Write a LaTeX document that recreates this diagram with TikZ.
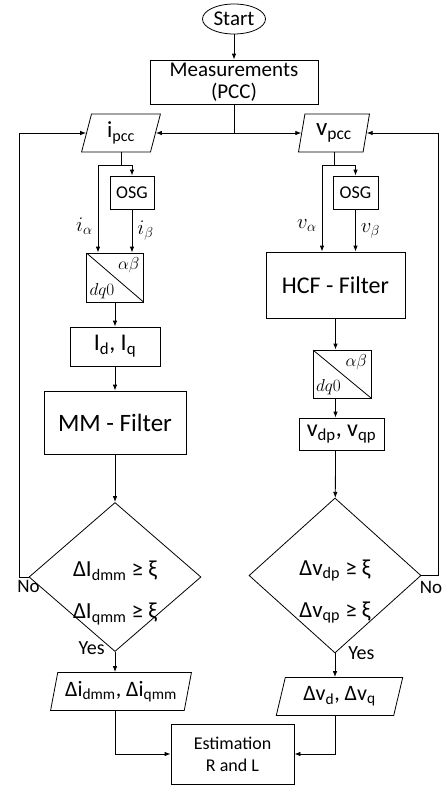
\documentclass[tikz,border=0pt]{standalone}
\usepackage{fontspec}
\setmainfont{Carlito}
\usetikzlibrary{shapes.geometric,arrows.meta}
\newcommand{\fsz}[2]{\fontsize{#1}{#2}\selectfont}
\tikzset{
  flow/.style={draw, rectangle, inner sep=0pt, align=center},
  io/.style={draw, trapezium, trapezium stretches=true, inner sep=0pt,
    minimum height=38pt},
  transf/.style={draw, rectangle, minimum width=57pt, minimum height=49pt,
    path picture={\draw (path picture bounding box.north west) -- (path picture bounding box.south east);},
    label={[anchor=north east, inner sep=4pt, font=\fsz{16}{18}]north east:$\alpha\beta$},
    label={[anchor=south west, inner sep=3pt, font=\fsz{16}{18}]south west:$dq0$}},
  decision/.style={draw, diamond, inner sep=0pt, minimum width=172pt, minimum height=152pt},
  line/.style={-{Latex[length=6pt,width=4.5pt]}},
  every path/.style={line width=0.8pt}
}
\begin{document}
\begin{tikzpicture}[x=1pt, y=-1pt]
  \useasboundingbox (0,0) rectangle (442,787);
  % top
  \node[draw, ellipse, minimum width=63pt, minimum height=30pt, inner sep=0pt, font=\fsz{21}{23}] (start) at (234,19) {Start};
  \node[flow, minimum width=168pt, minimum height=44pt, font=\fsz{21}{22}] (meas) at (234,82) {Measurements\\(PCC)};
  \node[io, trapezium left angle=78, trapezium right angle=102, minimum width=79pt, font=\fsz{23}{25}] (ipcc) at (121,133) {i\textsubscript{pcc}};
  \node[io, trapezium left angle=78, trapezium right angle=102, minimum width=71pt, font=\fsz{25}{27}] (vpcc) at (334,133) {v\textsubscript{pcc}};
  % current branch
  \node[flow, minimum width=44pt, minimum height=33pt, font=\fsz{18}{20}] (osg1) at (132,192.5) {OSG};
  \node[transf] (tf1) at (115,277.5) {};
  \node[flow, minimum width=90pt, minimum height=39pt, font=\fsz{24}{26}] (id) at (115,346.5) {I\textsubscript{d}, I\textsubscript{q}};
  \node[flow, minimum width=142pt, minimum height=63pt, font=\fsz{25}{27}] (mm) at (115,422.5) {MM - Filter};
  \node[decision, minimum height=149pt,
    label={[align=center, yshift=-16pt, font=\fsz{23}{42}]center:{ΔI\textsubscript{dmm} ≥ ξ\\ΔI\textsubscript{qmm} ≥ ξ}}] (dec1) at (115,577) {};
  \node[io, trapezium left angle=73, trapezium right angle=107, minimum width=141pt, font=\fsz{22}{24}] (dio1) at (121,691.5) {Δi\textsubscript{dmm}, Δi\textsubscript{qmm}};
  % voltage branch
  \node[flow, minimum width=45pt, minimum height=33pt, font=\fsz{18}{20}] (osg2) at (355.5,192.5) {OSG};
  \node[flow, minimum width=139pt, minimum height=66pt, font=\fsz{24}{26}] (hcf) at (335.5,285) {HCF - Filter};
  \node[transf, minimum width=58pt, minimum height=48pt] (tf2) at (342,374) {};
  \node[flow, minimum width=85pt, minimum height=32pt, font=\fsz{24}{26}] (vdp) at (341.5,434) {v\textsubscript{dp}, v\textsubscript{qp}};
  \node[decision, minimum height=155pt,
    label={[align=center, yshift=-16pt, font=\fsz{23}{42}]center:{Δv\textsubscript{dp} ≥ ξ\\Δv\textsubscript{qp} ≥ ξ}}] (dec2) at (335,575.5) {};
  \node[io, trapezium left angle=73, trapezium right angle=107, minimum width=127pt, font=\fsz{22}{24}] (dio2) at (339.5,696.5) {Δv\textsubscript{d}, Δv\textsubscript{q}};
  \node[flow, minimum width=123pt, minimum height=60pt, font=\fsz{18}{22}] (est) at (232.5,754) {Estimation\\R and L};
  % connectors
  \draw[line] (start) -- (meas);
  \draw[line] (meas.south) |- (ipcc.east);
  \draw[line] (meas.south) |- (vpcc.west);
  \draw (ipcc.south) -- ++(0,13) coordinate (isplit);
  \draw[line] (isplit) -| node[pos=0.85, left, inner sep=5pt, font=\fsz{22}{24}] {$i_\alpha$} ([xshift=-17pt]tf1.north);
  \draw[line] (isplit) -| (osg1.north);
  \draw[line] (osg1) -- node[right, inner sep=5pt, font=\fsz{22}{24}] {$i_\beta$} (osg1 |- tf1.north);
  \draw[line] (tf1) -- (id);
  \draw[line] (id) -- (mm);
  \draw[line] (mm) -- (dec1);
  \draw[line] (dec1.south) node[anchor=east, inner sep=0pt, xshift=-10pt, yshift=4pt, font=\fsz{20}{22}] {Yes} -- (dec1.south |- dio1.north);
  \draw[line] (dec1.south |- dio1.south) |- (est.west);
  \draw[line] (dec1.west) node[below, inner sep=3pt, font=\fsz{19}{21}] {No} -- ++(-9,0) |- (ipcc.west);
  \draw (vpcc.south) -- ++(0,13) coordinate (vsplit);
  \draw[line] (vsplit) -| node[pos=0.85, left, inner sep=5pt, font=\fsz{22}{24}] {$v_\alpha$} ([xshift=-13.5pt]hcf.north);
  \draw[line] (vsplit) -| (osg2.north);
  \draw[line] (osg2) -- node[right, inner sep=5pt, font=\fsz{22}{24}] {$v_\beta$} (osg2 |- hcf.north);
  \draw[line] (hcf) -- (hcf |- tf2.north);
  \draw[line] (hcf |- tf2.south) -- (hcf |- vdp.north);
  \draw[line] (hcf |- vdp.south) -- (dec2);
  \draw[line] (dec2.south) node[anchor=west, inner sep=0pt, xshift=13pt, font=\fsz{20}{22}] {Yes} -- (dec2.south |- dio2.north);
  \draw[line] (dec2.south |- dio2.south) |- (est.east);
  \draw[line] (dec2.east) node[anchor=north west, inner sep=0pt, xshift=-2pt, yshift=-5pt, font=\fsz{19}{21}] {No} -- ++(17,0) |- (vpcc.east);
\end{tikzpicture}
\end{document}
